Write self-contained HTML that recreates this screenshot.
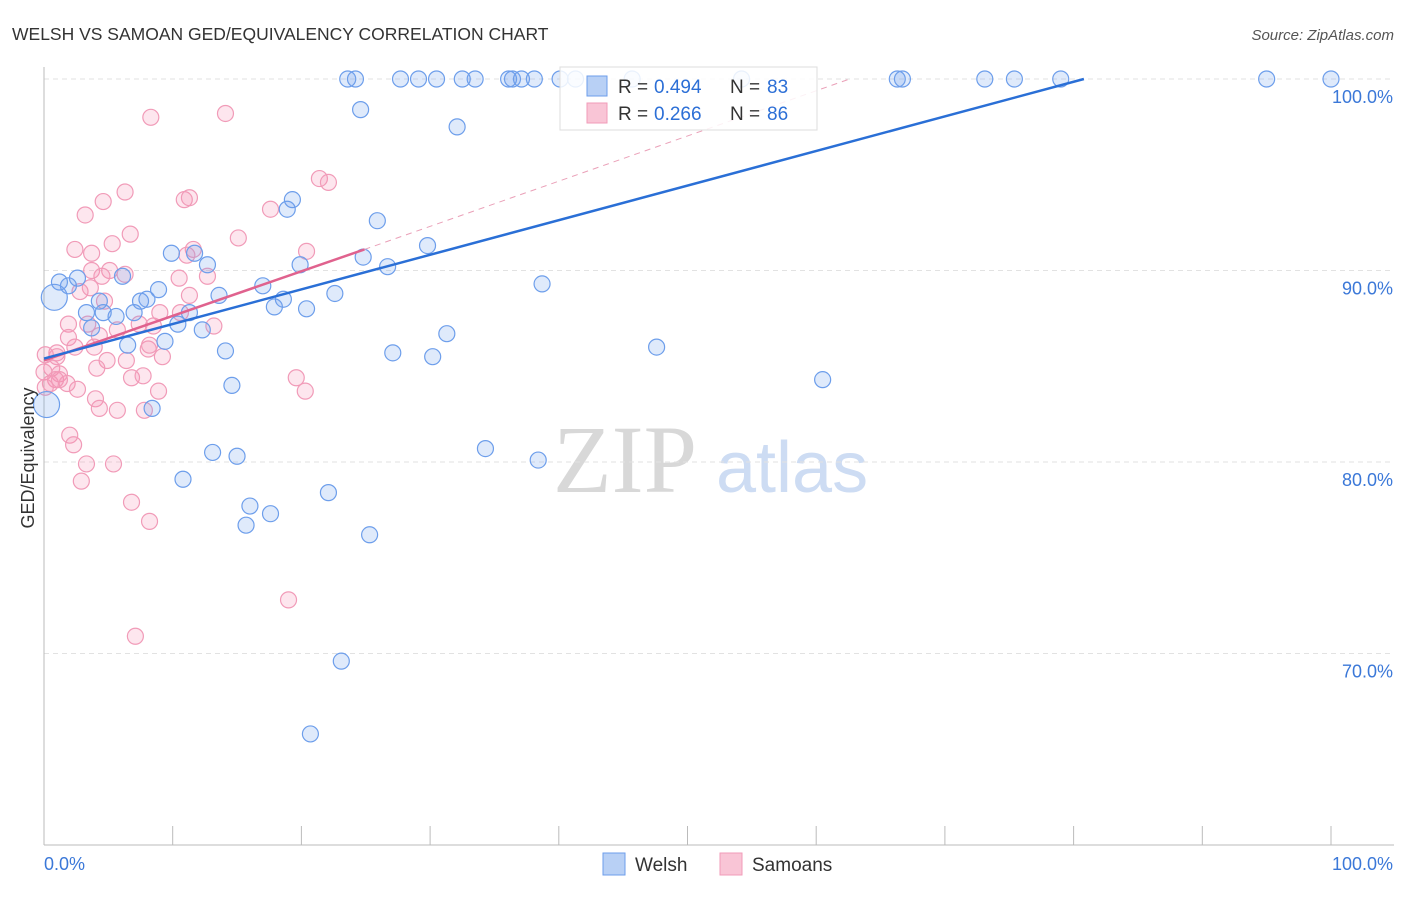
<!DOCTYPE html>
<html><head><meta charset="utf-8"><style>
body{margin:0;background:#fff;font-family:"Liberation Sans",sans-serif}
</style></head><body>
<svg id="chart" width="1406" height="892" xmlns="http://www.w3.org/2000/svg" font-family="Liberation Sans, sans-serif">
<text x="12" y="40" font-size="17.5" fill="#333">WELSH VS SAMOAN GED/EQUIVALENCY CORRELATION CHART</text>
<text x="1394" y="40" font-size="15" fill="#555" text-anchor="end" font-style="italic">Source: ZipAtlas.com</text>
<g>
<text x="553" y="492" font-size="96" font-family="Liberation Serif, serif" fill="#d8d8d8">ZIP</text>
<text x="716" y="492" font-size="72" fill="#cddcf3">atlas</text>
</g>
<g id="grid"></g>
<g id="axes"></g>
<g id="marks"></g>
<text transform="translate(34,458) rotate(-90)" font-size="18" fill="#333" text-anchor="middle">GED/Equivalency</text>
<g>
<rect x="560" y="67" width="257" height="63" fill="rgba(255,255,255,0.85)" stroke="#ddd"/>
<rect x="587" y="76" width="20" height="20" fill="#b8d0f5" stroke="#6d9eeb"/>
<text x="618" y="93" font-size="19" fill="#333">R =</text>
<text x="654" y="93" font-size="19" fill="#2c6fd6">0.494</text>
<text x="730" y="93" font-size="19" fill="#333">N =</text>
<text x="767" y="93" font-size="19" fill="#2c6fd6">83</text>
<rect x="587" y="103" width="20" height="20" fill="#f9c5d6" stroke="#f19bb8"/>
<text x="618" y="120" font-size="19" fill="#333">R =</text>
<text x="654" y="120" font-size="19" fill="#2c6fd6">0.266</text>
<text x="730" y="120" font-size="19" fill="#333">N =</text>
<text x="767" y="120" font-size="19" fill="#2c6fd6">86</text>
</g>
<g>
<rect x="603" y="853" width="22" height="22" fill="#b8d0f5" stroke="#6d9eeb"/>
<text x="635" y="871" font-size="19" fill="#333">Welsh</text>
<rect x="720" y="853" width="22" height="22" fill="#f9c5d6" stroke="#f19bb8"/>
<text x="752" y="871" font-size="19" fill="#333">Samoans</text>
</g>
</svg>
<script>
const welshX=[23.6,24.2,27.7,29.1,30.5,32.5,33.5,36.1,36.4,37.1,38.1,40.1,41.3,45.7,54.2,66.3,66.7,73.1,75.4,79.0,95.0,100,24.6,32.1,19.3,18.9,25.9,29.8,9.9,11.7,24.8,12.7,19.9,26.7,1.2,1.9,2.6,6.1,8.9,17.0,38.7,0.8,4.3,7.5,8.0,13.6,18.6,17.9,20.4,22.6,3.3,4.6,5.6,7.0,11.3,10.4,3.7,12.3,31.3,6.5,9.4,14.1,27.1,30.2,47.6,14.6,60.5,0.2,8.4,34.3,38.4,13.1,15.0,10.8,22.1,16.0,17.6,15.7,25.3,23.1,20.7];
const welshY=[100,100,100,100,100,100,100,100,100,100,100,100,100,100,100,100,100,100,100,100,100,100,98.4,97.5,93.7,93.2,92.6,91.3,90.9,90.9,90.7,90.3,90.3,90.2,89.4,89.2,89.6,89.7,89.0,89.2,89.3,88.6,88.4,88.4,88.5,88.7,88.5,88.1,88.0,88.8,87.8,87.8,87.6,87.8,87.8,87.2,87.0,86.9,86.7,86.1,86.3,85.8,85.7,85.5,86.0,84.0,84.3,83.0,82.8,80.7,80.1,80.5,80.3,79.1,78.4,77.7,77.3,76.7,76.2,69.6,65.8];
const samoanX=[8.3,14.1,21.4,22.1,6.3,4.6,10.9,11.3,3.2,17.6,15.1,6.7,5.3,2.4,3.7,11.6,20.4,11.1,3.7,5.1,6.3,4.5,10.5,12.7,2.8,3.6,4.7,11.3,9.0,10.6,1.9,3.4,7.4,8.5,13.2,4.3,5.7,1.9,2.4,3.9,8.1,1.0,1.0,0.1,8.2,9.2,4.9,6.4,0.6,1.2,0,4.1,6.8,7.7,0.9,1.8,19.6,0.1,2.6,20.3,8.9,4.0,4.3,5.7,7.8,2.0,2.3,3.3,5.4,2.9,6.8,8.2,19.0,7.1,0.5,1.2];
const samoanY=[98.0,98.2,94.8,94.6,94.1,93.6,93.7,93.8,92.9,93.2,91.7,91.9,91.4,91.1,90.9,91.1,91.0,90.8,90.0,90.0,89.8,89.7,89.6,89.7,88.9,89.1,88.4,88.7,87.8,87.8,87.2,87.2,87.2,87.1,87.1,86.6,86.9,86.5,86.0,86.0,85.9,85.7,85.5,85.6,86.1,85.5,85.3,85.3,84.9,84.6,84.7,84.9,84.4,84.5,84.3,84.1,84.4,83.9,83.8,83.7,83.7,83.3,82.8,82.7,82.7,81.4,80.9,79.9,79.9,79.0,77.9,76.9,72.8,70.9,84.1,84.3];
const yTicks=[100,90,80,70];
const yTickLabels=["100.0%","90.0%","80.0%","70.0%"];
const xTicks=[0,10,20,30,40,50,60,70,80,90,100];
const welshTrend=[[0,85.4],[80.8,100]];
const samoanTrend=[[0,85.3],[24.9,91.1]];
const samoanTrendExt=[[24.9,91.1],[62.6,100]];
const bigWelsh=[41,67];
const NS="http://www.w3.org/2000/svg";
const sx=v=>44+v*12.87, sy=v=>79+(100-v)*19.15;
function mk(tag,attrs,parent){const e=document.createElementNS(NS,tag);for(const k in attrs)e.setAttribute(k,attrs[k]);parent.appendChild(e);return e;}
const grid=document.getElementById('grid'),axes=document.getElementById('axes'),marks=document.getElementById('marks');
yTicks.forEach((t,i)=>{
 const l=mk('line',{x1:44,x2:1394,y1:sy(t),y2:sy(t),stroke:'#e2e2e2','stroke-dasharray':'5,4'},grid);
 
 
 const tx=mk('text',{x:1393,y:sy(t)+24,'font-size':18,fill:'#3b78d8','text-anchor':'end'},axes);
 tx.textContent=yTickLabels[i];
 
 
});
const ax=mk('line',{x1:44,x2:1394,y1:845,y2:845,stroke:'#bbb'},axes);


const ay=mk('line',{x1:44,x2:44,y1:67,y2:845,stroke:'#bbb'},axes);


xTicks.forEach(t=>{const l=mk('line',{x1:sx(t),x2:sx(t),y1:826,y2:845,stroke:'#bbb'},axes);
 
 });
const x0=mk('text',{x:44,y:870,'font-size':18,fill:'#3b78d8'},axes);x0.textContent='0.0%';


const x1=mk('text',{x:1393,y:870,'font-size':18,fill:'#3b78d8','text-anchor':'end'},axes);x1.textContent='100.0%';


samoanX.forEach((v,i)=>{const c=mk('circle',{cx:sx(v),cy:sy(samoanY[i]),r:8,fill:'rgba(244,143,177,0.22)',stroke:'#f19bb8','stroke-width':1.2},marks);
 
 });
welshX.forEach((v,i)=>{const big=bigWelsh.includes(i);const c=mk('circle',{cx:sx(v),cy:sy(welshY[i]),r:big?13:8,fill:'rgba(110,158,235,0.22)',stroke:'#6d9eeb','stroke-width':1.2},marks);
 
 });
const se=mk('line',{x1:sx(samoanTrendExt[0][0]),y1:sy(samoanTrendExt[0][1]),x2:sx(samoanTrendExt[1][0]),y2:sy(samoanTrendExt[1][1]),stroke:'#eaa0b8','stroke-width':1,'stroke-dasharray':'6,5'},marks);


const st=mk('line',{x1:sx(samoanTrend[0][0]),y1:sy(samoanTrend[0][1]),x2:sx(samoanTrend[1][0]),y2:sy(samoanTrend[1][1]),stroke:'#e0628e','stroke-width':2.5},marks);


const wt=mk('line',{x1:sx(welshTrend[0][0]),y1:sy(welshTrend[0][1]),x2:sx(welshTrend[1][0]),y2:sy(welshTrend[1][1]),stroke:'#2a6fd6','stroke-width':2.5},marks);


</script>
</body></html>
